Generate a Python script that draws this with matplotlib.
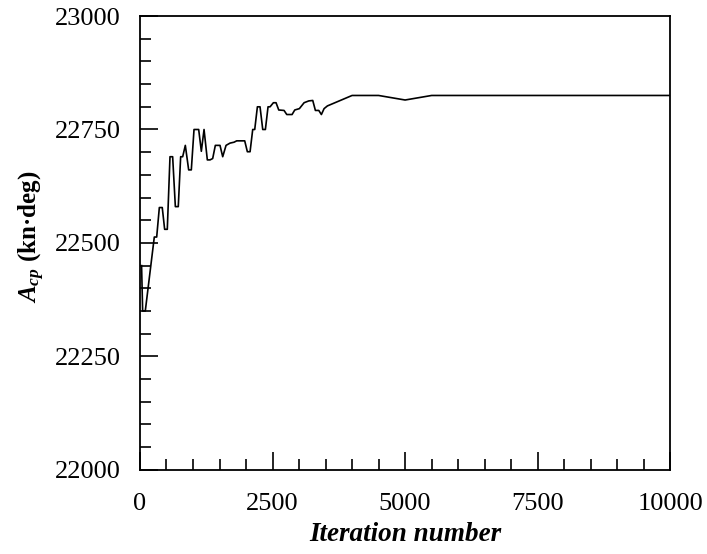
import matplotlib
matplotlib.use("Agg")
import matplotlib.pyplot as plt
from matplotlib.ticker import MultipleLocator

# =====================================================
# DATA
# =====================================================

iteration = [
    30, 50, 100, 270, 315, 365, 420, 465, 515, 566,
    616, 667, 722, 767, 805, 855, 918, 968, 1019, 1107,
    1157, 1208, 1270, 1321, 1371, 1421, 1509, 1560, 1623, 1698,
    1774, 1824, 1975, 2025, 2076, 2126, 2164, 2214, 2264, 2315,
    2365, 2415, 2453, 2516, 2566, 2617, 2717, 2768, 2868, 2919,
    3006, 3095, 3183, 3258, 3308, 3372, 3421, 3472, 3535, 4000,
    4500, 5000, 5500, 10000,
]
acp = [
    22450, 22350, 22350, 22513, 22513, 22578, 22578, 22530, 22530, 22690,
    22690, 22580, 22580, 22690, 22690, 22715, 22661, 22661, 22750, 22750,
    22702, 22750, 22683, 22683, 22686, 22715, 22715, 22690, 22715, 22720,
    22722, 22725, 22725, 22701, 22701, 22750, 22750, 22800, 22800, 22750,
    22750, 22800, 22800, 22809, 22809, 22793, 22792, 22783, 22783, 22793,
    22796, 22809, 22813, 22814, 22792, 22792, 22783, 22796, 22802, 22825,
    22825, 22815, 22825, 22825,
]

# =====================================================
# STYLE
# =====================================================

plt.rcParams["font.family"] = ["Liberation Serif", "DejaVu Serif"]
plt.rcParams["mathtext.fontset"] = "custom"
plt.rcParams["mathtext.rm"] = "Liberation Serif:bold"
plt.rcParams["mathtext.it"] = "Liberation Serif:italic:bold"
plt.rcParams["mathtext.bf"] = "Liberation Serif:bold"

# =====================================================
# PLOT
# =====================================================

fig = plt.figure(figsize=(7.07, 5.54), dpi=100)
ax = fig.add_axes([0.198, 0.152, 0.750, 0.819])

ax.plot(iteration, acp, color="black", linewidth=1.2)

ax.set_xlim(0, 10000)
ax.set_ylim(22000, 23000)

ax.xaxis.set_major_locator(MultipleLocator(2500))
ax.xaxis.set_minor_locator(MultipleLocator(500))
ax.yaxis.set_major_locator(MultipleLocator(250))
ax.yaxis.set_minor_locator(MultipleLocator(50))

ax.tick_params(which="both", direction="in", top=False, right=False,
               labelsize=19, width=1.2)
ax.tick_params(which="major", length=13)
ax.tick_params(which="minor", length=8)
ax.tick_params(axis="x", which="major", pad=17)
ax.tick_params(axis="y", which="major", pad=14)

for s in ax.spines.values():
    s.set_linewidth(1.3)

ax.set_xlabel("Iteration number", fontsize=19.5, fontweight="bold",
              fontstyle="italic", labelpad=5)
ax.set_ylabel(r"$A_{cp}$ (kn·deg)", fontsize=18, fontweight="bold")
ax.yaxis.set_label_coords(-0.175, 0.513)

fig.savefig("out.png", dpi=100)
